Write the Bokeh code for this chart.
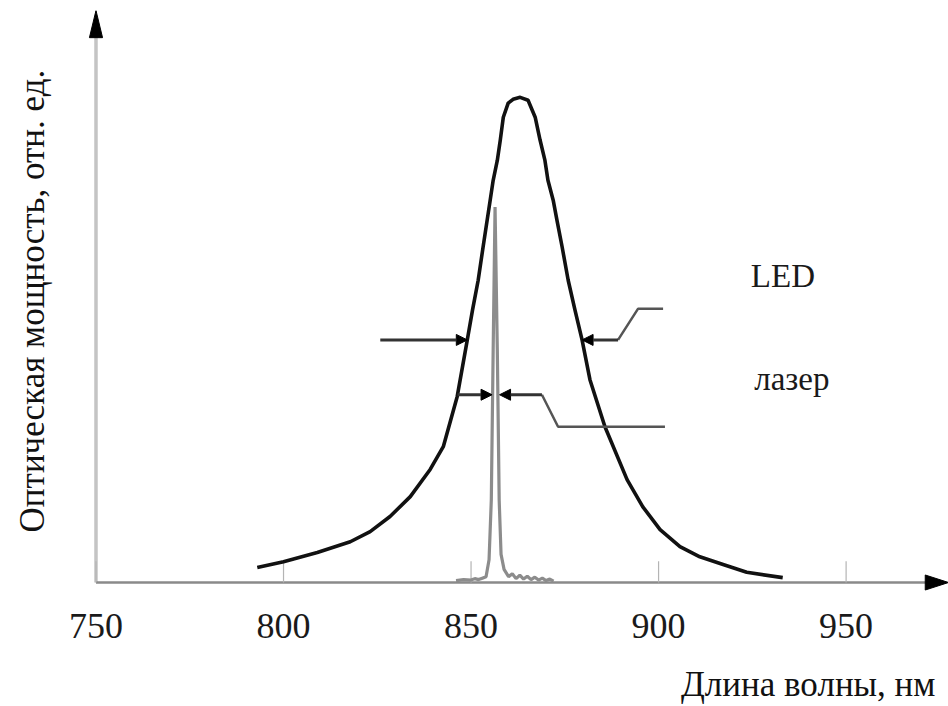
import numpy as np
from bokeh.plotting import figure
from bokeh.models import Range1d, FixedTicker, Label, Arrow, NormalHead, LinearAxis, Title
from bokeh.embed import file_html
from bokeh.resources import INLINE

# ---- data ----
led_nm = [793.0, 800.0, 809.0, 817.8, 823.1, 828.4, 833.8, 839.1, 842.6, 846.3,
          849.0, 850.4, 851.9, 853.2, 854.3, 855.1, 855.9, 857.0, 857.8, 858.6,
          859.9, 861.2, 863.1, 865.2, 867.1, 868.4, 869.7, 870.5, 871.9, 872.9,
          874.3, 875.9, 877.7, 879.6, 881.7, 885.7, 891.6, 895.8, 900.4, 905.7,
          911.0, 917.2, 923.5, 933.1]
led_pow = [0.031, 0.043, 0.062, 0.084, 0.105, 0.136, 0.177, 0.233, 0.280, 0.383,
           0.500, 0.562, 0.623, 0.691, 0.747, 0.788, 0.829, 0.870, 0.912, 0.959,
           0.988, 0.996, 1.000, 0.994, 0.959, 0.912, 0.870, 0.829, 0.788, 0.747,
           0.691, 0.623, 0.562, 0.500, 0.418, 0.321, 0.212, 0.156, 0.109, 0.074,
           0.053, 0.037, 0.021, 0.010]

laser_nm = [846.0, 848.0, 850.0, 851.0, 852.0, 853.0, 854.0, 854.8, 855.4, 855.9,
            856.4, 857.0, 857.5, 858.0, 858.8, 860.0, 861.0, 862.0, 863.0, 864.0,
            865.0, 866.0, 867.0, 868.0, 869.0, 870.0, 871.0, 872.0]
laser_pow = [0.004, 0.006, 0.005, 0.008, 0.006, 0.009, 0.012, 0.047, 0.170, 0.480,
             0.774, 0.480, 0.170, 0.058, 0.027, 0.012, 0.018, 0.008, 0.015, 0.007,
             0.013, 0.006, 0.011, 0.005, 0.009, 0.004, 0.007, 0.003]

x_ticks = [750, 800, 850, 900, 950]
x_title = "Длина волны, нм"
y_title = "Оптическая мощность, отн. ед."
led_label = "LED"
laser_label = "лазер"

# ---- figure ----
X0, X1 = 726.94, 977.3
Y0, Y1 = -0.0206, 1.179
p = figure(width=948, height=706, output_backend="svg", toolbar_location=None,
           x_range=Range1d(X0, X1), y_range=Range1d(Y0, Y1),
           y_axis_location=None,
           min_border_left=9, min_border_right=0, min_border_top=10,
           min_border_bottom=113)
p.outline_line_color = None
p.grid.visible = False
p.background_fill_color = "white"
p.border_fill_color = "white"

SERIF = "Liberation Serif"

# x axis: tick labels only (line and ticks drawn at y = 0 below)
xa = p.xaxis[0]
xa.ticker = FixedTicker(ticks=x_ticks)
xa.axis_line_color = None
xa.major_tick_line_color = None
xa.minor_tick_line_color = None
xa.major_tick_in = 0
xa.major_tick_out = 0
xa.major_label_text_font = SERIF
xa.major_label_text_font_size = "36px"
xa.major_label_text_color = "#1a1a1a"
xa.major_label_standoff = 21

# invisible spacer axis (one hidden tick, empty label), then the right-aligned x title
spacer = LinearAxis(ticker=FixedTicker(ticks=[760]), axis_line_color=None,
                    major_tick_line_color=None, minor_tick_line_color=None,
                    major_tick_in=0, major_tick_out=19, major_label_standoff=0,
                    major_label_overrides={760: ""}, major_label_text_font_size="1px")
p.add_layout(spacer, "below")
p.add_layout(Title(text=x_title, align="right", offset=13, standoff=6,
                   text_font=SERIF, text_font_size="35px", text_font_style="normal",
                   text_color="#111111"), "below")

# axis lines, ticks and arrow heads
p.line([750, 750], [0, 1.125], line_color="#c4c4c4", line_width=3.5)
p.line([750, 972.0], [0, 0], line_color="#8a8a8a", line_width=2.5)
p.segment(x0=x_ticks, y0=[0] * len(x_ticks), x1=x_ticks, y1=[0.044] * len(x_ticks),
          line_color="#b4b4b4", line_width=1.2)
p.patch([748.25, 750, 751.75], [1.123, Y1, 1.123], fill_color="black", line_color="black")
p.patch([971.1, X1, 971.1], [0.0155, 0, -0.0155], fill_color="black", line_color="black")

# spectra
p.line(laser_nm, laser_pow, line_color="#8c8c8c", line_width=3.2)
p.line(led_nm, led_pow, line_color="#111111", line_width=3.6, line_join="round")

# FWHM markers computed from the curves
led_arr = np.array(led_pow); led_x = np.array(led_nm)
ipk = int(np.argmax(led_arr)); led_hm = led_arr[ipk] / 2
led_l = np.interp(led_hm, led_arr[:ipk + 1], led_x[:ipk + 1])
led_r = np.interp(led_hm, led_arr[ipk:][::-1], led_x[ipk:][::-1])

las_arr = np.array(laser_pow); las_x = np.array(laser_nm)
jpk = int(np.argmax(las_arr)); las_hm = las_arr[jpk] / 2
las_l = np.interp(las_hm, las_arr[:jpk + 1], las_x[:jpk + 1])
las_r = np.interp(las_hm, las_arr[jpk:][::-1], las_x[jpk:][::-1])
led_at_las = np.interp(las_hm, led_arr[:ipk + 1], led_x[:ipk + 1])

ARROW_C = "#333333"
def arrow(x0, x1, y):
    p.add_layout(Arrow(x_start=x0, y_start=y, x_end=x1, y_end=y,
                       line_color=ARROW_C, line_width=3,
                       end=NormalHead(size=11, fill_color="black", line_color="black")))

arrow(825.8, led_l, led_hm)
arrow(889.2, led_r, led_hm)
p.line([889.2, 894.5, 901.2], [led_hm, 0.564, 0.564], line_color="#555555", line_width=2.5)
arrow(led_at_las, las_l - 0.15, las_hm)
arrow(868.9, las_r + 0.45, las_hm)
p.line([868.9, 873.2, 901.7], [las_hm, 0.321, 0.321], line_color="#555555", line_width=2.5)

# texts
p.add_layout(Label(x=924.6, y=0.632, text=led_label, text_font=SERIF,
                   text_font_size="33px", text_color="#1a1a1a", text_baseline="alphabetic"))
p.add_layout(Label(x=925.5, y=0.420, text=laser_label, text_font=SERIF,
                   text_font_size="33px", text_color="#1a1a1a", text_baseline="alphabetic"))
p.add_layout(Label(x=733.07, y=0.580, text=y_title, text_font=SERIF, angle=np.pi / 2,
                   text_font_size="35px", text_color="#111111", text_align="center",
                   text_baseline="middle"))

open("out.html", "w").write(file_html(p, INLINE))
